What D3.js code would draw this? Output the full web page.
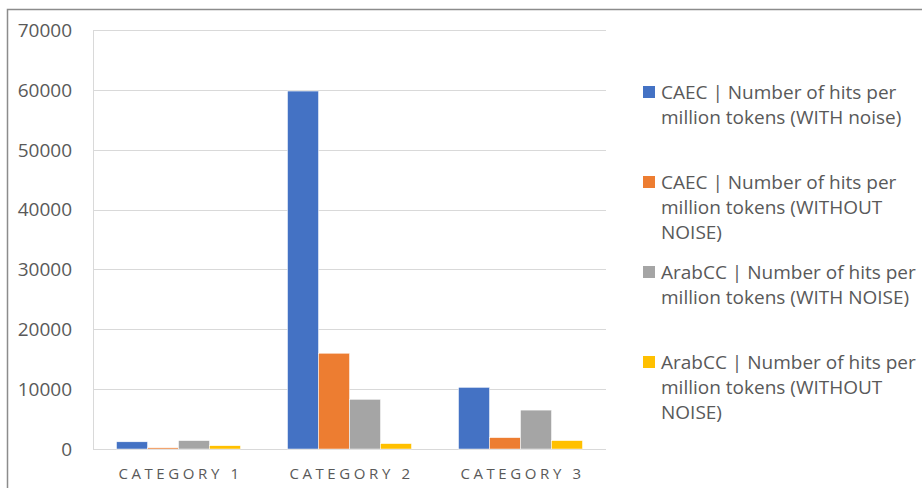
<!DOCTYPE html>
<html>
<head>
<meta charset="utf-8">
<script src="https://cdn.jsdelivr.net/npm/d3@7"></script>
<style>
  body { margin: 0; background: #fff; }
  text { font-family: "Open Sans", sans-serif; fill: #595959; }
</style>
</head>
<body>
<div id="chart"></div>
<script>
const categories = ["CATEGORY 1", "CATEGORY 2", "CATEGORY 3"];
const seriesNames = [
    "CAEC | Number of hits per million tokens (WITH noise)",
    "CAEC | Number of hits per million tokens (WITHOUT NOISE)",
    "ArabCC | Number of hits per million tokens (WITH NOISE)",
    "ArabCC | Number of hits per million tokens (WITHOUT NOISE)"
];
// legend lines as wrapped in the original
const legendLines = [
    ["CAEC | Number of hits per", "million tokens (WITH noise)"],
    ["CAEC | Number of hits per", "million tokens (WITHOUT", "NOISE)"],
    ["ArabCC | Number of hits per", "million tokens (WITH NOISE)"],
    ["ArabCC | Number of hits per", "million tokens (WITHOUT", "NOISE)"]
];
const caecWithNoise = [1200, 59800, 10300];
const caecWithoutNoise = [200, 16000, 1900];
const arabccWithNoise = [1400, 8300, 6500];
const arabccWithoutNoise = [550, 900, 1400];
const yTicks = [0, 10000, 20000, 30000, 40000, 50000, 60000, 70000];
const colors = ["#4472c4", "#ed7d31", "#a5a5a5", "#ffc000"];

const allSeries = [caecWithNoise, caecWithoutNoise, arabccWithNoise, arabccWithoutNoise];

const width = 922, height = 488;
const marginLeft = 93, marginRight = 316, marginTop = 30, marginBottom = 39;

const svg = d3.create("svg")
    .attr("width", width)
    .attr("height", height);

// outer frame
svg.append("rect")
    .attr("x", 7.5).attr("y", 9.5)
    .attr("width", width + 20).attr("height", height + 20)
    .attr("fill", "none")
    .attr("stroke", "#8c8c8c")
    .attr("stroke-width", 1.5);

const x0 = d3.scaleBand()
    .domain(categories)
    .range([marginLeft, width - marginRight])
    .paddingInner(0.275)
    .paddingOuter(0.1375);

const x1 = d3.scaleBand()
    .domain(d3.range(seriesNames.length))
    .range([0, x0.bandwidth()]);

const y = d3.scaleLinear()
    .domain([0, 70000])
    .range([height - marginBottom, marginTop]);

// gridlines
svg.append("g")
    .selectAll("line")
    .data(yTicks)
    .join("line")
    .attr("x1", marginLeft).attr("x2", width - marginRight)
    .attr("y1", d => Math.round(y(d)) + 0.5)
    .attr("y2", d => Math.round(y(d)) + 0.5)
    .attr("stroke", "#d9d9d9");

// left axis line
svg.append("line")
    .attr("x1", marginLeft + 0.5).attr("x2", marginLeft + 0.5)
    .attr("y1", y(70000)).attr("y2", y(0))
    .attr("stroke", "#d9d9d9");

// y labels
svg.append("g")
    .attr("text-anchor", "end")
    .selectAll("text")
    .data(yTicks)
    .join("text")
    .attr("x", 72)
    .attr("y", d => y(d))
    .attr("dy", "0.36em")
    .style("font-size", "19px")
    .text(d => d);

// bars
const groups = svg.append("g")
    .selectAll("g")
    .data(categories)
    .join("g")
    .attr("transform", d => `translate(${x0(d)},0)`);

groups.selectAll("rect")
    .data((d, i) => allSeries.map((s, k) => ({k, v: s[i]})))
    .join("rect")
    .attr("x", d => x1(d.k))
    .attr("y", d => y(d.v))
    .attr("width", x1.bandwidth())
    .attr("height", d => y(0) - y(d.v))
    .attr("fill", d => colors[d.k])
    .attr("stroke", "#fff")
    .attr("stroke-width", 0.5);

// category labels
svg.append("g")
    .attr("text-anchor", "middle")
    .selectAll("text")
    .data(categories)
    .join("text")
    .attr("x", d => x0(d) + x0.bandwidth() / 2 + 2)
    .attr("y", 479)
    .style("font-size", "15px")
    .style("letter-spacing", "3.6px")
    .text(d => d);

// legend
const legend = svg.append("g");
const entryTop = [92, 182, 272, 362];
legendLines.forEach((lines, i) => {
    legend.append("rect")
        .attr("x", 643).attr("y", entryTop[i] - 6)
        .attr("width", 12).attr("height", 12)
        .attr("fill", colors[i]);
    const t = legend.append("text")
        .attr("x", 661)
        .attr("y", entryTop[i])
        .style("font-size", "19px");
    lines.forEach((line, j) => {
        t.append("tspan")
            .attr("x", 661)
            .attr("y", entryTop[i] + j * 25)
            .attr("dy", "0.36em")
            .text(line);
    });
});

document.getElementById("chart").append(svg.node());
</script>
</body>
</html>
